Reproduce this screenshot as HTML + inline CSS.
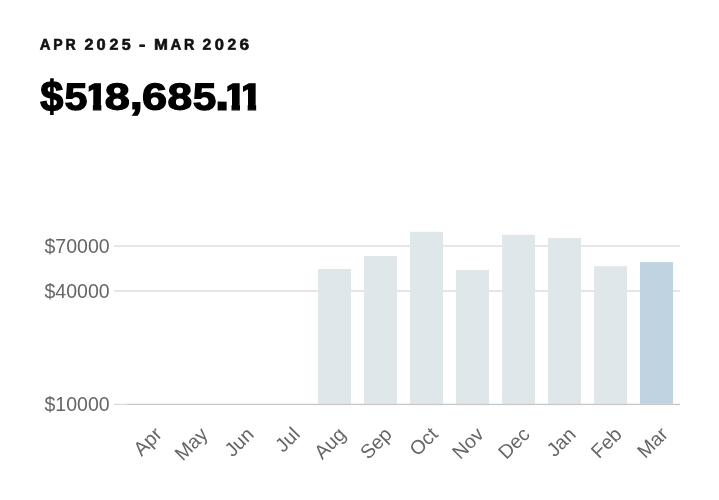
<!DOCTYPE html>
<html>
<head>
<meta charset="utf-8">
<title>Chart</title>
<style>
html,body{margin:0;padding:0;background:#fff;}
body{width:719px;height:500px;position:relative;overflow:hidden;font-family:"Liberation Sans",sans-serif;}
.period{text-rendering:geometricPrecision;position:absolute;left:0;top:0;font-size:15.5px;line-height:15.5px;font-weight:700;color:#111;white-space:nowrap;}
.period span{position:absolute;left:0;top:0;display:block;transform-origin:0 0;}
.total{text-rendering:geometricPrecision;position:absolute;left:0;top:0;font-size:36px;line-height:36px;font-weight:700;color:#000;-webkit-text-stroke:1.2px #000;white-space:nowrap;}
.total span{position:absolute;left:0;top:0;display:block;transform-origin:0 0;}
svg{position:absolute;left:0;top:0;}
svg text{font-family:"Liberation Sans",sans-serif;fill:#666;}
</style>
</head>
<body>
<div class="period" style="-webkit-text-stroke:0.6px #111"><span style="transform:translate(39.85px,37.70px) rotate(0.1deg) scale(0.959,1.012)">A</span><span style="transform:translate(53.31px,37.70px) rotate(0.1deg) scale(0.907,1.012)">P</span><span style="transform:translate(65.62px,37.70px) rotate(0.1deg) scale(0.910,1.012)">R</span> <span style="transform:translate(84.54px,37.70px) rotate(0.1deg) scale(1.038,1.012)">2</span><span style="transform:translate(96.60px,37.70px) rotate(0.1deg) scale(1.058,1.012)">0</span><span style="transform:translate(109.45px,37.70px) rotate(0.1deg) scale(1.029,1.012)">2</span><span style="transform:translate(121.76px,37.70px) rotate(0.1deg) scale(1.037,1.012)">5</span> <span style="transform:translate(139.12px,37.70px) rotate(0.1deg) scale(1.245,1.012)">-</span> <span style="transform:translate(154.13px,37.70px) rotate(0.1deg) scale(1.079,1.012)">M</span><span style="transform:translate(170.47px,37.70px) rotate(0.1deg) scale(0.958,1.012)">A</span><span style="transform:translate(184.14px,37.70px) rotate(0.1deg) scale(0.920,1.012)">R</span> <span style="transform:translate(202.45px,37.70px) rotate(0.1deg) scale(1.013,1.012)">2</span><span style="transform:translate(214.74px,37.70px) rotate(0.1deg) scale(1.064,1.012)">0</span><span style="transform:translate(227.55px,37.70px) rotate(0.1deg) scale(1.006,1.012)">2</span><span style="transform:translate(239.62px,37.70px) rotate(0.1deg) scale(1.113,1.012)">6</span></div>
<div class="total"><span style="transform:translate(40.37px,75.06px) rotate(0.1deg) scale(1.152,1.195)">$</span><span style="transform:translate(64.51px,78.13px) rotate(0.1deg) scale(1.143,1.053)">5</span><span style="transform:translate(83.52px,78.14px) rotate(0.1deg) scale(1.248,1.050);clip-path:polygon(4.00px 0,14.30px 0,14.30px 36px,7.55px 36px,7.55px 20px,4.00px 20px)">1</span><span style="transform:translate(104.70px,78.22px) rotate(0.1deg) scale(1.250,1.044)">8</span><span style="transform:translate(129.88px,74.53px) rotate(0.1deg) scale(1.306,1.144)">,</span><span style="transform:translate(142.01px,78.23px) rotate(0.1deg) scale(1.251,1.042)">6</span><span style="transform:translate(167.49px,78.25px) rotate(0.1deg) scale(1.229,1.043)">8</span><span style="transform:translate(192.91px,78.12px) rotate(0.1deg) scale(1.175,1.053)">5</span><span style="transform:translate(215.19px,68.75px) rotate(0.1deg) scale(1.436,1.364)">.</span><span style="transform:translate(222.19px,78.14px) rotate(0.1deg) scale(1.248,1.050);clip-path:polygon(4.08px 0,14.30px 0,14.30px 36px,7.55px 36px,7.55px 20px,4.08px 20px)">1</span><span style="transform:translate(238.35px,78.14px) rotate(0.1deg) scale(1.248,1.050);clip-path:polygon(3.75px 0,14.30px 0,14.30px 36px,7.55px 36px,7.55px 20px,3.75px 20px)">1</span></div>
<svg width="719" height="500" viewBox="0 0 719 500">
  <g fill="#e6e6e6">
    <rect x="114" y="245" width="566" height="2"/>
    <rect x="114" y="290" width="566" height="2"/>
  </g>
  <rect x="114" y="403.75" width="14" height="1.3" fill="#dadada"/>
  <g fill="#e0e7eb">
    <rect x="318" y="269" width="33" height="134.8"/>
    <rect x="364" y="256" width="33" height="147.8"/>
    <rect x="410" y="231.8" width="33" height="172.0"/>
    <rect x="456" y="270" width="33" height="133.8"/>
    <rect x="502" y="234.8" width="33" height="169.0"/>
    <rect x="548" y="238" width="33" height="165.8"/>
    <rect x="594" y="266.2" width="33" height="137.6"/>
  </g>
  <rect x="640" y="262.1" width="33" height="141.7" fill="#bfd4e0"/>
  <rect x="127.5" y="403.75" width="552.5" height="1.3" fill="#c6c6c6"/>
  <g font-size="19.5" text-anchor="end">
    <text transform="translate(109.6,252.7)">$70000</text>
    <text transform="translate(109.6,297.7)">$40000</text>
    <text transform="translate(109.6,411.2)">$10000</text>
  </g>
  <g font-size="19.6" text-anchor="end">
    <text transform="translate(163,435.5) rotate(-45)">Apr</text>
    <text transform="translate(209,435.5) rotate(-45)">May</text>
    <text transform="translate(255,435.5) rotate(-45)">Jun</text>
    <text transform="translate(301,435.5) rotate(-45)">Jul</text>
    <text transform="translate(347,435.5) rotate(-45)">Aug</text>
    <text transform="translate(393,435.5) rotate(-45)">Sep</text>
    <text transform="translate(439,435.5) rotate(-45)">Oct</text>
    <text transform="translate(485,435.5) rotate(-45)">Nov</text>
    <text transform="translate(531,435.5) rotate(-45)">Dec</text>
    <text transform="translate(577,435.5) rotate(-45)">Jan</text>
    <text transform="translate(623,435.5) rotate(-45)">Feb</text>
    <text transform="translate(669,435.5) rotate(-45)">Mar</text>
  </g>
</svg>
</body>
</html>
